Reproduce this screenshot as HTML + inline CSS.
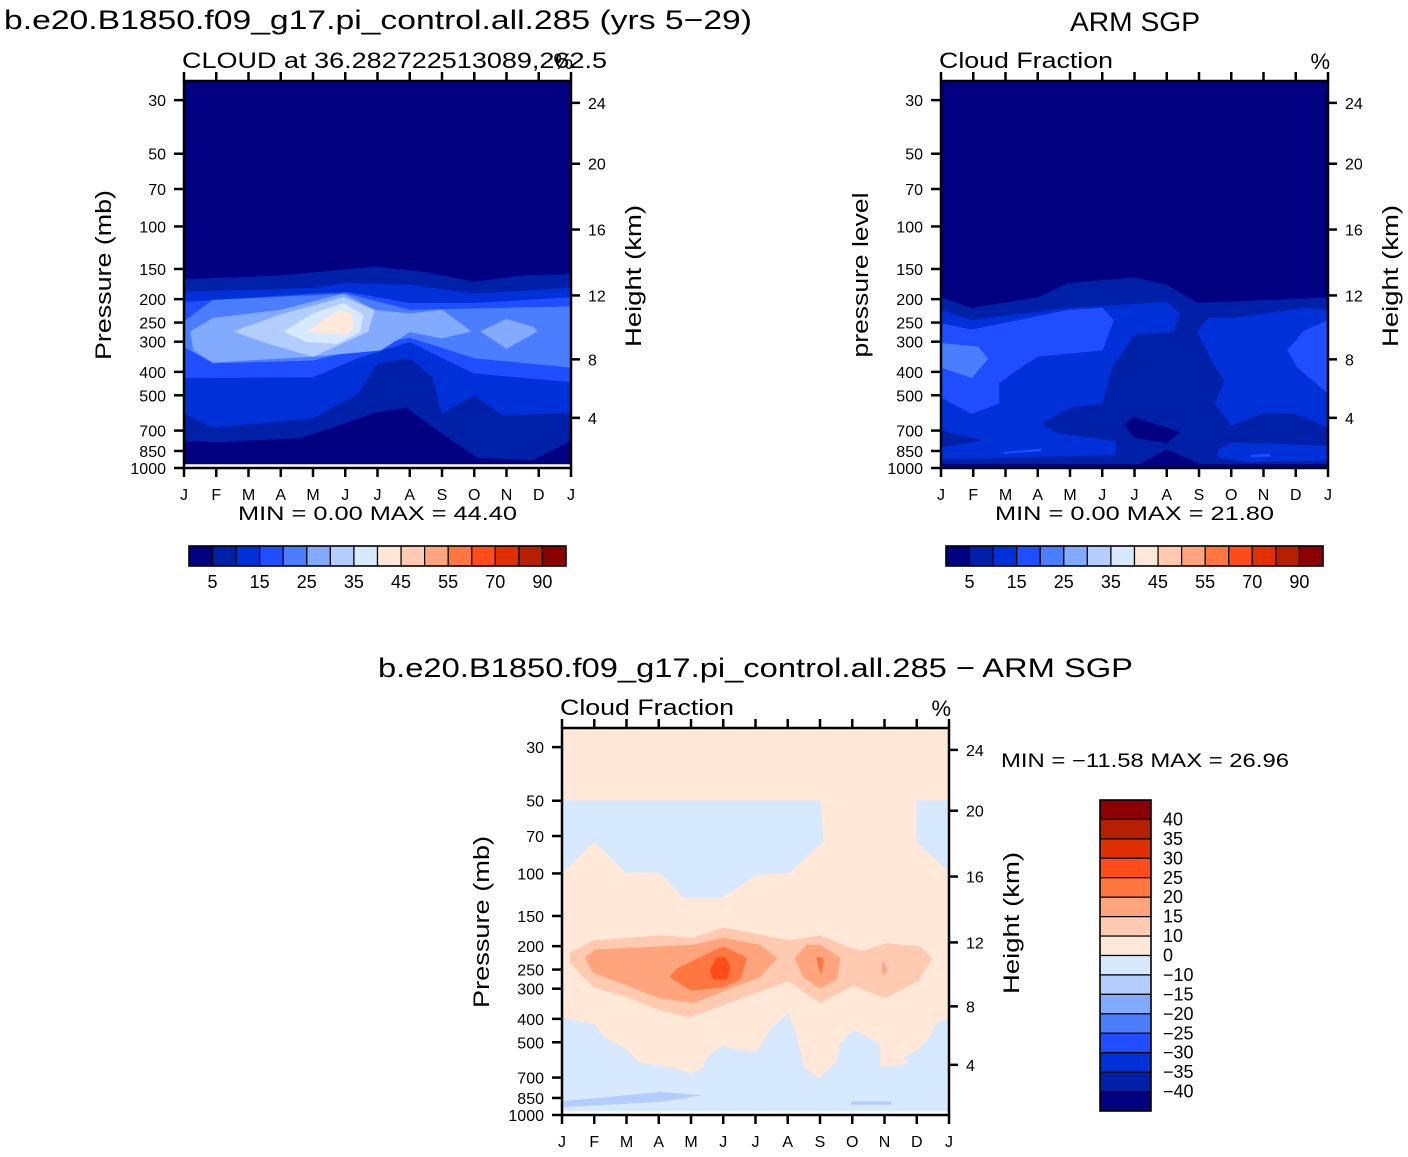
<!DOCTYPE html>
<html><head><meta charset="utf-8">
<style>
body{margin:0;background:#fff;}
svg text{font-family:"Liberation Sans",sans-serif;fill:#000;}
</style></head>
<body>
<svg id="fig" width="1408" height="1152" viewBox="0 0 1408 1152" xmlns="http://www.w3.org/2000/svg">
<rect width="1408" height="1152" fill="#fff"/>
<text x="4" y="29" font-size="27" textLength="748" lengthAdjust="spacingAndGlyphs">b.e20.B1850.f09_g17.pi_control.all.285 (yrs 5−29)</text>
<text x="1070" y="31" font-size="27" textLength="130" lengthAdjust="spacingAndGlyphs">ARM SGP</text>
<text x="378" y="677" font-size="27" textLength="755" lengthAdjust="spacingAndGlyphs">b.e20.B1850.f09_g17.pi_control.all.285 − ARM SGP</text>
<g id="layer"></g>
</svg>
<script>
// ---------- data ----------
const months = ["J","F","M","A","M","J","J","A","S","O","N","D","J"];
const pressTicks = [30,50,70,100,150,200,250,300,400,500,700,850,1000];
const heightTicks = [24,20,16,12,8,4];
const heightPress = [30.8,55,103,193,355,620];
const colors = ["#000080","#0020a8","#0030d8","#1e4eff","#4a7dff","#82aaff","#b4cdff","#d7e9ff","#ffe8d8","#ffcab0","#ffa47c","#ff7640","#ff4c1a","#e03000","#b42000","#8b0000"];
const absLabels = ["5","15","25","35","45","55","70","90"];
const diffLabels = ["40","35","30","25","20","15","10","0","−10","−15","−20","−25","−30","−35","−40"];
const modelMin = "0.00", modelMax = "44.40";
const obsMin = "0.00", obsMax = "21.80";
const diffMin = "−11.58", diffMax = "26.96";
// contour regions: [colorIndex, [[month, pressure],...]]
const modelRegions = [
 [1,[[0,166],[3,160],[5.9,147],[7.5,155],[9,170],[10.5,160],[12,158],[12,770],[10.8,925],[9.1,905],[8,720],[6.9,560],[5.9,590],[4.8,665],[3.6,750],[1,780],[0,770]]],
 [2,[[0,187],[4,180],[5.05,172],[7,175],[9,190],[12,180],[12,590],[9.9,605],[9,500],[8,590],[7.7,420],[7,350],[6,368],[5.4,490],[4,620],[0.9,680],[0,595]]],
 [3,[[0,206],[4,190],[5.05,187],[7,208],[9,208],[12,197],[12,440],[9,405],[8,350],[7,300],[5.4,350],[4,420],[0,423]]],
 [4,[[0,248],[0.9,202],[5.05,190],[7,222],[12,215],[12,383],[9,350],[7,288],[6.1,305],[4,358],[0.9,368],[0,315]]],
 [5,[[0.2,273],[0.9,240],[3,222],[4.95,190],[5.9,222],[7,230],[8,222],[8.9,272],[8,290],[7,273],[6.1,325],[4,345],[0.9,365],[0.3,325]]],
 [5,[[9.2,272],[10,242],[10.85,262],[10.95,272],[10,320]]],
 [6,[[1.55,272],[3,232],[4.95,197],[5.9,222],[5.7,273],[4,345],[2.6,305]]],
 [7,[[3.1,272],[4,230],[4.95,208],[5.55,232],[5.45,273],[4.75,305],[3.8,300]]],
 [8,[[3.85,272],[4.3,245],[4.85,222],[5.2,230],[5.25,263],[5.05,280]]]
];
const obsRegions = [
 [1,[[0,197],[0.95,218],[3,197],[3.95,172],[6,163],[7,175],[7.95,208],[12,197],[12,960],[0,960]]],
 [2,[[0,222],[0.95,245],[3.95,218],[7,206],[7.4,230],[7.2,273],[6,280],[5.3,383],[5,540],[4.05,560],[3.1,655],[3.6,720],[5.4,775],[5.4,880],[0,920]]],
 [2,[[8.3,240],[7.95,273],[8.5,383],[8.8,430],[8.5,540],[9,665],[10,590],[11,595],[12,680],[12,222],[11.3,218],[9,240]]],
 [3,[[0,252],[0.95,268],[3.95,222],[5,218],[5.35,245],[5,325],[3,345],[2.2,405],[1.8,445],[1.8,540],[0.95,595],[0,510]]],
 [3,[[12,245],[11.25,272],[10.75,325],[11.05,383],[12,490]]],
 [4,[[0,305],[1.15,315],[1.45,353],[0.95,423],[0,383]]],
 [1,[[0,700],[1.25,770],[0,820]]],
 [3,[[1.95,860],[3.1,835],[3.1,850],[1.95,870]]],
 [2,[[8.6,845],[9,785],[12,810],[12,930],[9.5,945],[8.6,900]]],
 [3,[[9.6,885],[10.2,875],[10.2,895],[9.6,900]]],
 [0,[[5.7,665],[5.95,615],[7.4,710],[7,785],[6,750]]],
 [0,[[6.2,960],[7,840],[8,960]]]
];
const diffRegions = [
 [7,[[0,50],[8,50],[8.1,74],[7.05,99],[6.05,101],[5,125],[3.75,125],[3.05,99],[2,99],[1,74],[0,99]]],
 [7,[[11,50],[12,50],[12,98],[11,74]]],
 [7,[[0,397],[1.02,423],[1.28,477],[1.9,525],[2.42,610],[3.35,637],[4.02,675],[4.38,637],[4.49,580],[5,515],[5.21,530],[6.04,550],[6.45,445],[7.02,380],[7.28,477],[7.49,637],[8,707],[8.52,598],[8.62,508],[9.04,445],[9.86,508],[9.86,637],[10.79,615],[10.59,580],[11.1,530],[11.41,477],[11.62,418],[12,397],[12,1000],[0,1000]]],
 [6,[[0,880],[3.05,805],[4.28,830],[3.05,880],[0,925]]],
 [6,[[8.98,880],[10.2,880],[10.2,905],[8.98,905]]],
 [9,[[0.25,213],[0.97,190],[3.04,181],[4.07,185],[5,168],[7.07,190],[8,181],[8.83,201],[9.3,210],[10.07,195],[11.1,201],[11.46,224],[11.05,278],[10.02,328],[9.04,290],[8,343],[7.02,278],[3.97,393],[3.04,368],[2.01,324],[0.97,295],[0.25,234]]],
 [10,[[0.72,224],[1.03,207],[4.07,198],[5,185],[6.14,198],[6.66,224],[6.14,268],[4.07,343],[3.04,328],[2.01,290],[0.97,257]]],
 [10,[[7.23,224],[7.59,198],[8,198],[8.62,224],[8.52,274],[8,298],[7.49,268]]],
 [11,[[3.35,268],[3.56,248],[5,201],[5.73,224],[5.52,274],[5,295],[4.02,305]]],
 [11,[[7.9,222],[8.1,224],[8.05,259],[7.95,245]]],
 [10,[[9.97,232],[10.07,252],[9.97,262],[9.92,252]]],
 [12,[[4.59,252],[4.8,224],[5.06,222],[5.21,245],[5.11,274],[4.7,274]]]
];
// ---------- drawing ----------
const NS="http://www.w3.org/2000/svg";
const root=document.getElementById('layer');
function mk(tag,attrs,parent){const e=document.createElementNS(NS,tag);for(const k in attrs)e.setAttribute(k,attrs[k]);(parent||root).appendChild(e);return e;}
function txt(s,x,y,size,anchor,parent){const e=mk('text',{x:x,y:y,'font-size':size,'text-anchor':anchor||'start'},parent);e.textContent=s;return e;}
const PW=387,PH=387,PTOP=25,PBOT=1000;
function panel(name,x0,y0,regions,bgIdx,bottomWhite,title,titleLen,leftTitle,leftLen){
  const g=mk('g',{});
  
  
  const xs=m=>x0+m/12*PW;
  const ys=p=>y0+(Math.log10(p)-Math.log10(PTOP))/(Math.log10(PBOT)-Math.log10(PTOP))*PH;
  const clip=mk('clipPath',{id:name+'-clip'},g);
  mk('rect',{x:x0,y:y0,width:PW,height:PH},clip);
  const bg=mk('rect',{x:x0,y:y0,width:PW,height:PH,fill:colors[bgIdx]},g);
  
  
  const cg=mk('g',{'clip-path':'url(#'+name+'-clip)'},g);
  regions.forEach((r,i)=>{
    const pts=r[1].map(q=>xs(q[0]).toFixed(1)+','+ys(q[1]).toFixed(1)).join(' ');
    const pg=mk('polygon',{points:pts,fill:colors[r[0]],stroke:colors[r[0]],'stroke-width':0.6},cg);
    
    
  });
  if(bottomWhite){const w=mk('rect',{x:x0,y:ys(965),width:PW,height:y0+PH-ys(965),fill:'#fff'},cg);
    
    }
  const fr=mk('rect',{x:x0,y:y0,width:PW,height:PH,fill:'none',stroke:'#000','stroke-width':2.5},g);
  
  
  months.forEach((m,i)=>{
    const x=xs(i);
    mk('line',{x1:x,y1:y0+PH,x2:x,y2:y0+PH+9,stroke:'#000','stroke-width':2.5},g);
    mk('line',{x1:x,y1:y0,x2:x,y2:y0-9,stroke:'#000','stroke-width':2.5},g);
    const t=txt(m,x,y0+PH+32,16,'middle',g);
    
    
  });
  pressTicks.forEach(p=>{
    const y=ys(p);
    mk('line',{x1:x0-10,y1:y,x2:x0,y2:y,stroke:'#000','stroke-width':2.5},g);
    const t=txt(String(p),x0-18,y+6,16,'end',g);
    
    
  });
  heightTicks.forEach((h,i)=>{
    const y=ys(heightPress[i]);
    mk('line',{x1:x0+PW,y1:y,x2:x0+PW+9,y2:y,stroke:'#000','stroke-width':2.5},g);
    const t=txt(String(h),x0+PW+17,y+6,16,'start',g);
    
    
  });
  const st=mk('text',{x:x0-2,y:y0-13,'font-size':22,textLength:titleLen,lengthAdjust:'spacingAndGlyphs'},g);
  st.textContent=title;
  
  
  const pc=txt('%',x0+PW+2,y0-12,22,'end',g);
  
  
  const lt=mk('text',{x:0,y:0,'font-size':22,'text-anchor':'middle',textLength:leftLen,lengthAdjust:'spacingAndGlyphs',transform:'translate('+(x0-73)+','+(y0+194)+') rotate(-90)'},g);
  lt.textContent=leftTitle;
  
  
  const rt=mk('text',{x:0,y:0,'font-size':22,'text-anchor':'middle',textLength:142,lengthAdjust:'spacingAndGlyphs',transform:'translate('+(x0+PW+70)+','+(y0+195)+') rotate(-90)'},g);
  rt.textContent='Height (km)';
  
  
  return {g,xs,ys};
}
function hbar(name,x0,y0){
  const g=mk('g',{});
  
  
  const bw=377/16;
  colors.forEach((c,i)=>{
    const r=mk('rect',{x:x0+i*bw,y:y0,width:bw,height:20,fill:c,stroke:'#000','stroke-width':1.2},g);
    
    
  });
  mk('rect',{x:x0,y:y0,width:377,height:20,fill:'none',stroke:'#000','stroke-width':1.5},g);
  absLabels.forEach((l,i)=>{
    const t=txt(l,x0+(2*i+1)*bw,y0+42,18,'middle',g);
    
    
  });
}
function minmax(name,x,y,mn,mx,len){
  const t=mk('text',{x:x,y:y,'font-size':19,textLength:len,lengthAdjust:'spacingAndGlyphs','xml:space':'preserve'});
  t.textContent='MIN =    '+mn+'  MAX =    '+mx;
  
  
}
panel('model-panel',184,81,modelRegions,0,true,'CLOUD at 36.282722513089,262.5',425,'Pressure (mb)',170);
panel('obs-panel',941,81,obsRegions,0,false,'Cloud Fraction',174,'pressure level',165);
panel('diff-panel',562,728,diffRegions,8,true,'Cloud Fraction',174,'Pressure (mb)',172);
minmax('model-min-max',238,520,modelMin,modelMax,279);
minmax('obs-min-max',995,520,obsMin,obsMax,279);
minmax('diff-min-max',1001,767,diffMin,diffMax,288);
hbar('model-colorbar',189,546);
hbar('obs-colorbar',946,546);
(function(){
  const g=mk('g',{});
  
  
  const x0=1100,y0=800,bh=311/16;
  for(let i=0;i<16;i++){
    const r=mk('rect',{x:x0,y:y0+i*bh,width:51,height:bh,fill:colors[15-i],stroke:'#000','stroke-width':1.2},g);
    
    
  }
  mk('rect',{x:x0,y:y0,width:51,height:311,fill:'none',stroke:'#000','stroke-width':1.5},g);
  diffLabels.forEach((l,i)=>{
    const t=txt(l,1163,y0+(i+1)*bh+6,18,'start',g);
    
    
  });
})();
</script>
</body></html>
